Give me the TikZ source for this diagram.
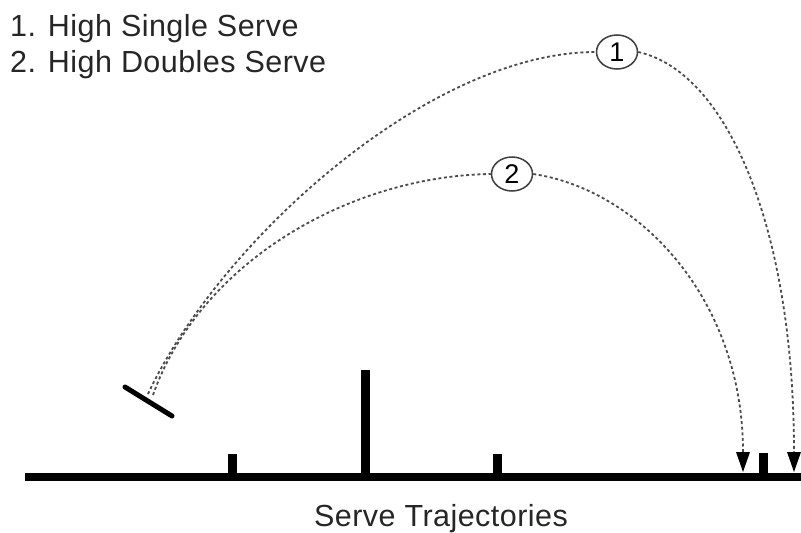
\documentclass[tikz,border=0pt]{standalone}
\usepackage{fontspec}
\setmainfont{Liberation Sans}[LetterSpace=1.5]
\usetikzlibrary{arrows.meta,shapes.geometric}
\begin{document}
\begin{tikzpicture}[x=1pt,y=-1pt,
  traj/.style={draw=black!70, line width=1.8pt, dash pattern=on 3pt off 2.6pt},
  arr/.style={traj,-{Triangle[width=14pt,length=20pt,fill=black,line width=0pt]}},
  num/.style={ellipse, draw=black!75, line width=1.5pt, minimum width=41pt, minimum height=34pt, inner sep=0pt, font=\fontsize{27}{27}\selectfont},
  bigtext/.style={font=\fontsize{30.5}{36}\selectfont, inner sep=0pt, text=black!85},
  solid/.style={line width=9pt, draw=black},
]
\useasboundingbox (0,0) rectangle (801,533);
\fill[white] (0,0) rectangle (801,533);
% legend
\node[bigtext, anchor=base west] (l1) at (10,36) {1. High Single Serve};
\node[bigtext, anchor=base west] (l2) at (10,72) {2. High Doubles Serve};
\node[bigtext, anchor=base] (cap) at (441,526) {Serve Trajectories};
% ground and posts
\coordinate (gL) at (25,477);
\coordinate (gR) at (801,477);
\draw[line width=8pt] (gL) -- (gR);
\draw[solid] (232,477) -- (232,454);
\draw[solid] (365,477) -- (365,370);
\draw[solid] (497,477) -- (497,454);
\draw[solid] (763,477) -- (763,453);
% racket
\draw[line width=5pt, line cap=round] (125,387) -- (172,416);
% markers
\node[num] (c1) at (617,52) {1};
\node[num] (c2) at (512,174) {2};
\coordinate (s1) at (148,394);
\coordinate (s2) at (153,395);
\coordinate (e1) at (794,472);
\coordinate (e2) at (743,472);
% trajectories
\draw[traj] (s1) .. controls (220,240) and (430,52) .. (c1.west);
\draw[arr] (c1.east) .. controls (728,72) and (794,230) .. (e1);
\draw[traj] (s2) .. controls (200,262) and (350,176) .. (c2.west);
\draw[arr] (c2.east) .. controls (640,190) and (743,300) .. (e2);
\end{tikzpicture}
\end{document}
